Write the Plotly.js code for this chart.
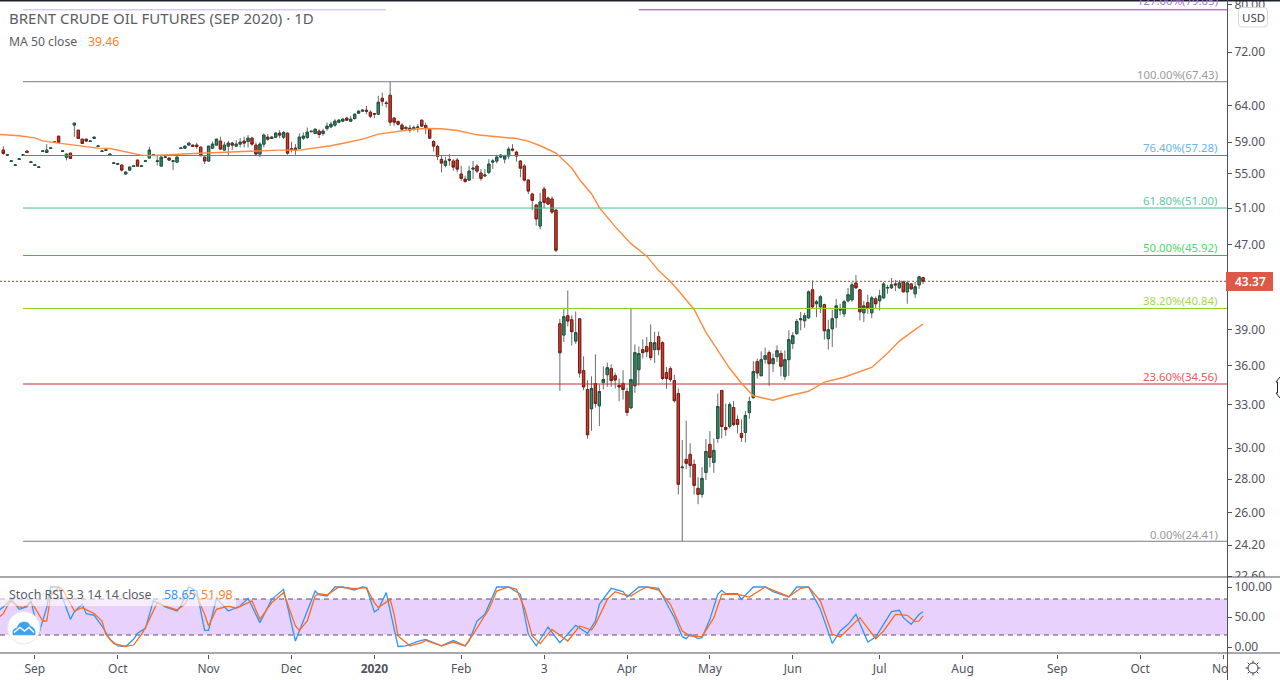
<!DOCTYPE html>
<html>
<head>
<meta charset="utf-8">
<script src="https://cdn.plot.ly/plotly-3.0.1.min.js"></script>
<style>html,body{margin:0;padding:0;background:#fff;overflow:hidden}#chart{width:1280px;height:680px}</style>
</head>
<body>
<div id="chart"></div>
<script>
const opens = [57.97,57.32,56.54,56.04,56.79,57.30,57.84,56.41,56.04,55.79,57.80,57.67,58.18,58.96,59.78,57.80,57.04,57.58,61.27,60.58,
59.39,59.39,59.08,59.48,58.44,57.80,57.93,57.29,56.29,56.17,56.08,54.98,55.46,55.91,56.70,55.91,56.54,56.96,57.30,56.54,
55.95,57.04,56.96,56.54,56.45,58.18,58.22,58.61,58.61,58.61,58.35,57.08,56.58,58.22,58.61,59.13,57.97,58.48,58.87,58.48,
58.74,59.13,59.08,59.52,58.61,57.46,58.74,59.65,59.48,59.65,60.18,59.65,60.18,58.13,58.22,58.18,
59.52,59.61,60.37,60.14,60.45,60.14,60.80,61.03,61.26,61.66,61.80,62.21,61.80,62.16,62.90,63.18,63.31,63.04,62.83,62.76,
65.01,64.33,65.44,62.21,61.75,61.26,60.80,60.85,60.76,60.95,61.93,61.21,60.71,59.08,58.44,56.79,56.04,56.79,56.58,56.70,
54.98,54.37,54.25,55.58,55.95,55.10,54.74,55.18,56.45,56.58,57.08,56.83,57.21,58.10,57.71,56.58,55.95,54.25,52.60,51.34,
49.01,53.18,52.13,52.02,50.77,
39.49,38.51,40.19,39.84,38.00,39.92,35.59,34.14,32.72,34.60,32.93,34.67,35.28,35.75,35.20,34.45,34.60,33.99,32.79,34.42,
35.67,37.29,37.54,37.87,37.29,38.37,37.87,35.44,35.75,34.82,33.84,28.72,29.25,29.58,28.93,27.44,27.08,28.42,30.24,29.06,
30.64,34.07,31.39,31.46,32.81,31.95,30.98,31.05,32.44,33.53,36.31,35.20,36.50,37.04,36.15,36.71,36.96,35.15,36.47,37.79,
38.63,39.83,39.75,40.01,42.56,41.27,40.99,41.18,38.20,39.05,40.01,40.70,40.36,41.54,41.63,43.21,42.56,40.45,41.36,40.45,
41.72,41.54,41.81,42.73,42.75,43.12,42.75,43.31,42.37,43.12,42.19,43.03,43.72];
const highs = [58.48,57.42,56.62,56.12,56.87,57.38,57.86,56.49,56.12,55.87,57.88,58.74,58.26,59.04,59.80,57.88,57.46,57.60,61.55,60.60,
59.40,59.41,59.16,59.67,58.52,57.88,58.01,57.48,56.37,56.25,56.10,55.24,55.85,55.99,56.72,55.99,56.62,58.40,57.38,57.21,
57.10,57.12,56.98,56.62,57.10,58.26,58.50,58.89,58.63,58.91,58.37,57.10,58.50,59.08,59.41,59.70,59.04,59.17,59.04,59.26,
59.52,59.70,59.92,59.70,58.96,59.00,60.14,60.05,59.83,60.31,60.58,60.49,60.27,59.04,58.74,60.14,
60.27,60.94,60.46,60.73,60.71,60.76,61.62,61.75,62.07,62.10,62.25,62.40,62.53,62.80,63.30,63.40,63.92,63.31,62.90,65.35,
65.83,64.63,67.43,62.39,61.90,61.53,61.17,61.30,61.20,61.39,62.00,61.62,60.80,59.26,58.66,57.25,57.12,57.46,56.83,56.96,
55.99,54.78,55.99,56.58,56.21,55.58,55.58,56.83,56.83,57.38,57.46,57.38,58.39,58.74,57.88,56.70,56.21,54.37,52.75,51.45,
52.75,53.46,52.30,52.32,50.77,
39.92,40.90,42.50,40.22,40.57,39.92,36.74,34.85,35.15,36.90,34.52,35.94,36.23,36.10,35.44,34.98,35.62,34.29,40.90,37.71,
37.56,38.14,38.34,39.43,38.80,38.80,37.98,35.89,35.94,35.28,34.22,30.53,31.86,30.31,29.25,28.12,28.76,30.60,31.14,30.64,
33.84,34.07,33.10,33.20,33.29,32.24,31.95,32.55,33.60,36.34,36.55,37.15,37.45,37.23,36.96,37.64,37.23,37.23,38.91,38.77,
39.92,40.54,40.45,42.50,43.44,41.63,42.06,41.27,39.83,40.72,41.72,41.27,41.63,42.75,43.28,43.99,42.62,41.51,42.10,42.00,
41.94,42.56,43.31,43.03,43.69,43.50,43.50,43.44,43.44,43.21,43.31,43.83,43.80];
const lows = [57.38,57.30,56.52,56.02,56.77,57.28,57.65,56.39,56.02,55.77,57.78,57.67,58.16,58.94,58.90,57.78,56.66,56.89,59.70,59.45,
58.80,59.11,59.06,59.46,58.42,57.78,57.91,57.27,56.27,56.15,55.30,54.96,55.44,55.89,55.93,55.89,56.52,56.96,57.28,56.04,
55.93,57.02,56.68,55.46,56.43,58.16,58.20,58.59,58.42,58.10,57.23,56.21,56.56,58.20,58.59,57.97,57.95,57.34,57.97,58.48,
58.31,58.31,58.31,58.53,57.38,57.04,58.31,59.17,59.39,59.52,59.52,59.39,57.38,57.67,57.38,58.18,
59.26,59.39,60.35,60.12,59.52,59.83,60.49,60.85,61.03,61.50,61.70,61.85,61.66,62.00,62.80,63.10,62.76,62.21,62.21,62.62,
63.92,63.69,61.17,61.17,61.20,60.58,60.49,60.27,60.50,60.27,61.00,60.05,59.40,57.80,56.70,55.18,55.79,56.00,55.38,55.18,
54.17,53.93,54.17,54.37,55.06,54.17,54.66,54.98,55.58,56.29,56.96,56.29,56.83,57.80,56.50,54.58,54.09,52.60,50.77,49.05,
48.65,51.00,51.40,50.33,46.25,
34.04,37.92,39.26,37.64,37.78,35.05,34.09,30.62,31.16,32.81,31.50,34.14,34.34,34.34,34.22,33.27,33.39,32.19,32.67,33.89,
34.45,36.56,36.69,36.42,36.20,36.83,34.85,34.19,34.72,33.17,27.08,24.41,28.63,28.10,27.06,26.49,26.88,27.95,28.74,28.40,
30.35,30.64,30.82,31.32,31.48,30.98,30.40,30.37,32.00,33.46,34.98,35.15,36.15,34.42,35.49,36.29,35.15,34.85,35.18,37.34,
38.54,38.91,39.14,39.89,40.81,40.07,40.42,38.12,37.29,37.51,39.14,40.22,40.07,41.39,41.45,42.65,39.78,39.64,40.36,39.98,
40.81,40.66,41.72,42.19,42.65,42.44,42.65,42.35,41.27,42.59,41.81,42.65,43.12];
const closes = [57.54,57.38,56.60,56.10,56.85,57.36,57.67,56.47,56.10,55.85,57.86,57.97,58.24,59.02,58.96,57.86,57.46,56.91,61.53,59.48,
58.83,59.13,59.14,59.65,58.50,57.86,57.99,57.46,56.35,56.23,55.46,55.22,55.83,55.97,55.95,55.97,56.60,57.97,57.36,56.60,
57.08,57.10,56.70,56.60,57.08,58.24,58.48,58.87,58.44,58.44,57.25,56.58,58.48,58.74,59.39,58.10,58.61,58.87,58.61,58.74,
59.00,58.87,59.52,58.74,57.46,58.74,59.92,59.39,59.65,60.18,59.92,60.27,57.58,58.05,57.97,59.65,
59.78,60.31,60.43,60.71,60.00,60.45,61.12,61.39,61.80,61.93,62.07,61.93,62.07,62.76,63.18,63.31,63.18,62.48,62.78,64.44,
64.58,64.27,61.66,61.66,61.39,60.71,60.94,60.58,60.94,60.99,61.12,60.85,59.52,58.48,57.17,56.33,56.58,56.70,55.83,55.58,
54.46,54.09,55.34,55.70,55.34,54.46,54.86,56.21,56.58,57.08,57.34,57.21,58.10,57.97,57.21,55.70,54.25,52.95,51.87,49.78,
51.68,51.64,51.45,50.55,46.45,
37.03,40.10,39.72,38.80,38.71,35.41,34.34,30.89,34.22,33.10,33.99,34.90,35.83,34.82,34.87,34.34,34.14,32.45,34.90,37.04,
36.96,37.04,37.12,36.64,37.87,37.29,34.98,34.98,34.90,33.31,27.69,28.76,29.00,28.87,27.62,27.08,28.05,29.77,29.38,29.84,
32.88,31.46,31.25,33.02,31.60,31.60,30.71,32.24,33.24,35.52,35.41,36.47,36.80,36.15,36.55,37.20,35.94,36.47,38.12,38.46,
39.69,39.92,40.19,42.37,40.99,41.45,41.91,38.88,38.97,39.92,41.08,40.74,41.45,42.10,43.03,42.75,40.54,41.08,40.90,41.81,
41.27,42.00,43.12,42.78,43.03,43.03,43.21,42.37,43.21,42.65,42.84,43.80,43.37];
const barIndex = opens.map((_, i) => i);

const maIndex = [-1,0,4,8,10,14,19,24,27,30,35,38,41,47,53,58,63,70,75,79,83,87,91,95,100,104,107,111,115,120,125,130,133,136,140,144,146,149,151,155,159,163,166,169,171,175,178,181,184,187,190,195,199,204,208,213,220,224,227,230,233];
const maValues = [60.00,59.96,59.83,59.56,59.17,58.87,58.53,58.22,58.17,57.84,57.33,57.28,57.37,57.50,57.62,57.71,57.88,57.97,57.97,58.22,58.53,58.95,59.39,60.05,60.40,60.71,60.80,60.76,60.54,59.96,59.70,59.47,59.13,58.53,57.59,55.72,54.29,52.64,51.04,48.94,47.14,45.85,44.41,43.35,42.50,40.75,38.74,37.23,35.78,34.62,33.67,33.34,33.67,34.01,34.70,35.08,35.85,36.99,38.00,38.74,39.46];

const stochKIndex = [-1,0,2,4,6,7,9,11,12,14,15,17,18,20,21,23,25,27,29,31,33,34,36,38,40,41,44,45,47,49,51,52,54,57,60,62,65,68,71,74,77,79,80,82,84,86,89,91,92,94,95,97,100,102,105,107,111,114,117,118,120,122,125,128,131,133,135,138,141,145,148,150,151,154,157,158,161,163,166,169,170,172,173,174,176,177,179,181,182,183,186,187,190,193,195,199,201,204,207,210,212,214,216,219,221,225,227,228,230,232,233];
const stochKValues = [62,66.7,79.4,62.8,67.2,76.7,22.2,65.6,100,100,82.2,46.1,58.9,71.1,55.6,52.8,35,12.8,1.7,0.9,12.8,22.8,31.1,76.7,71.1,66.7,60,68.3,100,93.3,27.8,27.8,81.1,60,68.3,81.1,40.6,79.4,96.1,10,60,93.3,86.7,85,100,100,95,100,98.9,58.3,62.8,90.6,0.9,2,9.2,12.8,2,10.9,2,10,43.3,54.4,100,100,87.8,21.1,2,33.3,7.2,36.1,22.8,43.3,71.1,97.8,92.2,83.3,100,100,97.8,62.8,48.9,17.2,13.9,21.1,13.9,15.6,46.1,87.8,94.4,88.9,88.9,79.4,100,100,92.2,83.3,100,100,62.8,6.1,26.7,37.8,54.4,8.3,16.7,58.9,61.1,48.9,37.8,54.4,58.65];
const stochDIndex = [-1,0,1,2,4,5,7,8,10,11,12,14,15,17,18,20,23,25,26,28,31,33,35,36,39,41,44,46,48,49,51,52,54,57,59,63,65,68,71,74,75,77,79,80,82,85,89,92,94,95,98,99,100,103,106,107,111,114,117,119,123,125,128,130,132,134,136,139,143,146,149,150,153,155,157,159,161,163,166,169,172,174,177,180,182,186,189,193,195,199,202,204,207,210,212,217,221,223,226,229,231,232,233];
const stochDValues = [50,55.6,68.3,76.7,66.7,65.6,73.9,65.6,43.3,43.3,85,100,96.1,71.1,60,65.6,55.6,43.3,21.1,5.6,0.9,3.3,21.1,32.2,73.9,68.3,61.7,71.1,96.1,85,54.4,35,62.8,68.3,64.4,76.7,46.1,73.9,90.6,35,27.8,43.3,85,88.9,86.7,100,97.2,98.9,73.9,65.6,79.4,54.4,18.3,2,7.2,11.1,2,8.3,1.7,21.1,62.8,93.3,100,96.1,65.6,18.3,5.6,29.4,10,35,28.3,37.8,79.4,92.2,87.8,85,93.3,100,95,71.1,26.7,18.3,17.2,48.9,87.8,87.8,83.3,100,94.4,83.9,97.8,100,76.7,21.1,16.7,48.9,13.9,26.7,54.4,52.8,42.2,43.3,51.98];

const fibPercent = ['127.00%','100.00%','76.40%','61.80%','50.00%','38.20%','23.60%','0.00%'];
const fibPrice = [79.05,67.43,57.28,51.00,45.92,40.84,34.56,24.41];
const fibLine = ['#9c3bc4','#787b86','#2f93c4','#3fbf8f','#3cb83c','#8fd11c','#c62d2d','#787b86'];
const fibText = ['#a678d8','#9a9a9a','#64b5f6','#5fc9a0','#4cd964','#a5d64f','#e8585a','#9a9a9a'];

const priceTicks = [80,72,64,59,55,51,47,39,36,33,30,28,26,24.2,22.6];
const stochTicks = [100,50,0];
const timeTickIndex = [8,29,52,73,94,116,137,158,179,200,222,243,267,288,309];
const timeTickText = ['Sep','Oct','Nov','Dec','<b>2020</b>','Feb','3','Apr','May','Jun','Jul','Aug','Sep','Oct','Nov'];
const lastPrice = 43.37;
const xEnd = 310, xStart = -0.84;
const fibFrom = 5;

const font = '"Noto Sans", sans-serif';
const px = x => x / 1280, py = y => 1 - y / 680;
const axisColor = '#50535e', labelColor = '#50535e';
const P = (x, y) => px(x).toFixed(5) + ',' + py(y).toFixed(5);

const wickStyle = {line: {color: '#6b6b6b', width: 1}, fillcolor: '#6b6b6b'};
const traces = [];

fibPrice.forEach((v, k) => {
  if (k === 0) {
    traces.push({type: 'scatter', mode: 'lines', x: [fibFrom, 97], y: [v, v], line: {color: '#c8b4e4', width: 1}, hoverinfo: 'skip', xaxis: 'x', yaxis: 'y'});
    traces.push({type: 'scatter', mode: 'lines', x: [161, xEnd], y: [v, v], line: {color: fibLine[k], width: 1}, hoverinfo: 'skip', xaxis: 'x', yaxis: 'y'});
  } else {
    traces.push({type: 'scatter', mode: 'lines', x: [fibFrom, xEnd], y: [v, v], line: {color: fibLine[k], width: 1}, hoverinfo: 'skip', xaxis: 'x', yaxis: 'y'});
  }
});
traces.push({type: 'scatter', mode: 'lines', x: [xStart, xEnd], y: [lastPrice, lastPrice], line: {color: '#a8433a', width: 1, dash: '2px,2px'}, hoverinfo: 'skip', xaxis: 'x', yaxis: 'y'});

traces.push({type: 'candlestick', x: barIndex, open: opens, high: highs, low: lows, close: closes,
  increasing: wickStyle, decreasing: wickStyle, whiskerwidth: 0, hoverinfo: 'skip', xaxis: 'x', yaxis: 'y'});
traces.push({type: 'candlestick', x: barIndex, open: opens, close: closes,
  high: opens.map((o, i) => Math.max(o, closes[i])), low: opens.map((o, i) => Math.min(o, closes[i])),
  increasing: {line: {color: '#1d5540', width: 1}, fillcolor: '#388e68'},
  decreasing: {line: {color: '#7c1d14', width: 1}, fillcolor: '#d13a2c'},
  whiskerwidth: 0, hoverinfo: 'skip', xaxis: 'x', yaxis: 'y'});

traces.push({type: 'scatter', mode: 'lines', x: maIndex, y: maValues, line: {color: '#ff8a3c', width: 1.4}, hoverinfo: 'skip', xaxis: 'x', yaxis: 'y'});

[80, 20].forEach(v => traces.push({type: 'scatter', mode: 'lines', x: [xStart, xEnd], y: [v, v], line: {color: '#5d4a73', width: 1, dash: '5px,4px'}, hoverinfo: 'skip', xaxis: 'x', yaxis: 'y2'}));
traces.push({type: 'scatter', mode: 'lines', x: stochKIndex, y: stochKValues, line: {color: '#2f96f3', width: 1.3}, hoverinfo: 'skip', xaxis: 'x', yaxis: 'y2'});
traces.push({type: 'scatter', mode: 'lines', x: stochDIndex, y: stochDValues, line: {color: '#ff6a1a', width: 1.3}, hoverinfo: 'skip', xaxis: 'x', yaxis: 'y2'});

const rectPx = (x0, y0, x1, y1, fill, extra) => Object.assign({type: 'rect', xref: 'paper', yref: 'paper', x0: px(x0), x1: px(x1), y0: py(y0), y1: py(y1), fillcolor: fill, line: {width: 0}, layer: 'above'}, extra || {});
const linePx = (x0, y0, x1, y1, color, w) => ({type: 'line', xref: 'paper', yref: 'paper', x0: px(x0), x1: px(x1), y0: py(y0), y1: py(y1), line: {color: color, width: w || 1}, layer: 'above'});
const pathPx = (d, fill, lineColor, w) => ({type: 'path', xref: 'paper', yref: 'paper', path: d, fillcolor: fill, line: {color: lineColor, width: w}, layer: 'above'});

const sunRays = [];
for (let a = 0; a < 8; a++) {
  const t = a * Math.PI / 4, c = Math.cos(t), s = Math.sin(t);
  sunRays.push(linePx(1253 + 5 * c, 668 + 5 * s, 1253 + 7.5 * c, 668 + 7.5 * s, '#3a3d46', 1));
}

const shapes = [
  {type: 'rect', xref: 'x', yref: 'y2', x0: xStart, x1: xEnd, y0: 20, y1: 80, fillcolor: '#e9d1fd', line: {width: 0}, layer: 'below'},
  rectPx(0, 585, 236, 606, 'rgba(255,255,255,0.6)'),
  rectPx(1228, 577, 1280, 581.2, '#ffffff'),
  rectPx(1228, 654, 1280, 680, '#ffffff'),
  rectPx(0, 0, 1280, 1.6, '#1e222d'),
  linePx(0, 577, 1280, 577, axisColor),
  linePx(0, 653, 1280, 653, axisColor),
  linePx(1227.5, 0, 1227.5, 680, axisColor),
  rectPx(1226, 272, 1273, 291, '#dc5947'),
  pathPx('M' + P(1242, 7.5) + ' L' + P(1264, 7.5) + ' Q' + P(1267.5, 7.5) + ' ' + P(1267.5, 11) + ' L' + P(1267.5, 23.5) + ' Q' + P(1267.5, 27) + ' ' + P(1264, 27) + ' L' + P(1242, 27) + ' Q' + P(1238.5, 27) + ' ' + P(1238.5, 23.5) + ' L' + P(1238.5, 11) + ' Q' + P(1238.5, 7.5) + ' ' + P(1242, 7.5) + ' Z', '#ffffff', '#d6d6d6', 1),
  {type: 'circle', xref: 'paper', yref: 'paper', x0: px(7.5), x1: px(40), y0: py(611.5), y1: py(644), fillcolor: '#ffffff', line: {color: '#e6e6ea', width: 1}, layer: 'above'},
  pathPx('M' + P(13, 635) + ' Q' + P(11.5, 629) + ' ' + P(17, 628) + ' Q' + P(19, 621) + ' ' + P(25, 622) + ' Q' + P(29, 622) + ' ' + P(30, 626) + ' Q' + P(36.5, 628) + ' ' + P(35, 635) + ' Z', '#3fa2ee', '#3fa2ee', 0.5),
  pathPx('M' + P(14, 632.5) + ' L' + P(20, 627.5) + ' L' + P(24.5, 631) + ' L' + P(29, 627.5) + ' L' + P(34, 632.5), 'rgba(0,0,0,0)', '#ffffff', 1.4),
  {type: 'circle', xref: 'paper', yref: 'paper', x0: px(1248), x1: px(1258), y0: py(663), y1: py(673), fillcolor: '#ffffff', line: {color: '#3a3d46', width: 1}, layer: 'above'},
  pathPx('M' + P(1280, 377) + ' L' + P(1276, 382) + ' L' + P(1277.5, 382) + ' L' + P(1277.5, 393) + ' L' + P(1276, 393) + ' L' + P(1280, 398), '#ffffff', '#222222', 1)
].concat(sunRays);

const note = (text, x, y, color, size, anchor, weight) => ({
  xref: 'paper', yref: 'paper', x: px(x), y: py(y), text: text, showarrow: false,
  xanchor: anchor || 'left', yanchor: 'middle', align: anchor || 'left',
  font: {family: font, size: size || 12, color: color, weight: weight || 400}
});
const fibLabelY = [1, 74, 147.5, 200.5, 247.5, 300.5, 376, 534];
const annotations = fibPercent.map((p, k) => note(p + '(' + fibPrice[k].toFixed(2) + ')', 1220, fibLabelY[k], fibText[k], 11.4, 'right'));
annotations.push(
  note('BRENT CRUDE OIL FUTURES (SEP 2020) · 1D', 7, 17.5, '#5a5d66', 15),
  note('MA 50 close', 7, 41, '#5a5d66', 12.2),
  note('39.46', 86, 41, '#ff7f27', 12.2),
  note('Stoch RSI 3 3 14 14 close', 7, 594, '#5a5d66', 12.4),
  note('58.65', 162, 594, '#2f96f3', 12.4),
  note('51.98', 199, 594, '#ff7f27', 12.4),
  note(lastPrice.toFixed(2), 1233, 281.5, '#ffffff', 12, 'left', 600),
  note('USD', 1253, 17.5, '#3a3d46', 11.5, 'center')
);

const layout = {
  width: 1280, height: 680, showlegend: false,
  paper_bgcolor: '#ffffff', plot_bgcolor: '#ffffff',
  margin: {l: 0, r: 0, t: 0, b: 0, pad: 0},
  font: {family: font, size: 12, color: labelColor},
  boxmode: 'overlay', boxgap: 0.42, boxgroupgap: 0,
  hovermode: false, dragmode: false,
  xaxis: {type: 'linear', domain: [0, 1227 / 1280], range: [xStart, xEnd], anchor: 'y2',
    tickmode: 'array', tickvals: timeTickIndex, ticktext: timeTickText,
    ticks: 'outside', ticklen: 4, tickcolor: axisColor, showgrid: false, zeroline: false, showline: false,
    rangeslider: {visible: false}, tickangle: 0, tickfont: {family: font, size: 12, color: labelColor}},
  yaxis: {type: 'log', domain: [py(576.5), py(3)], range: [Math.log10(22.58), Math.log10(80.25)], anchor: 'x', side: 'right',
    tickmode: 'array', tickvals: priceTicks, ticktext: priceTicks.map(v => v.toFixed(2)),
    ticks: 'outside', ticklen: 4, tickcolor: axisColor, showgrid: false, zeroline: false, showline: false,
    ticklabeloverflow: 'allow',
    tickfont: {family: font, size: 12, color: labelColor}},
  yaxis2: {type: 'linear', domain: [py(654), py(578)], range: [-11.67, 115], anchor: 'x', side: 'right',
    tickmode: 'array', tickvals: stochTicks, ticktext: stochTicks.map(v => v.toFixed(2)),
    ticks: 'outside', ticklen: 4, tickcolor: axisColor, showgrid: false, zeroline: false, showline: false,
    tickfont: {family: font, size: 12, color: labelColor}},
  shapes: shapes, annotations: annotations
};
Plotly.newPlot('chart', traces, layout, {staticPlot: true, displayModeBar: false});
</script>
</body>
</html>
